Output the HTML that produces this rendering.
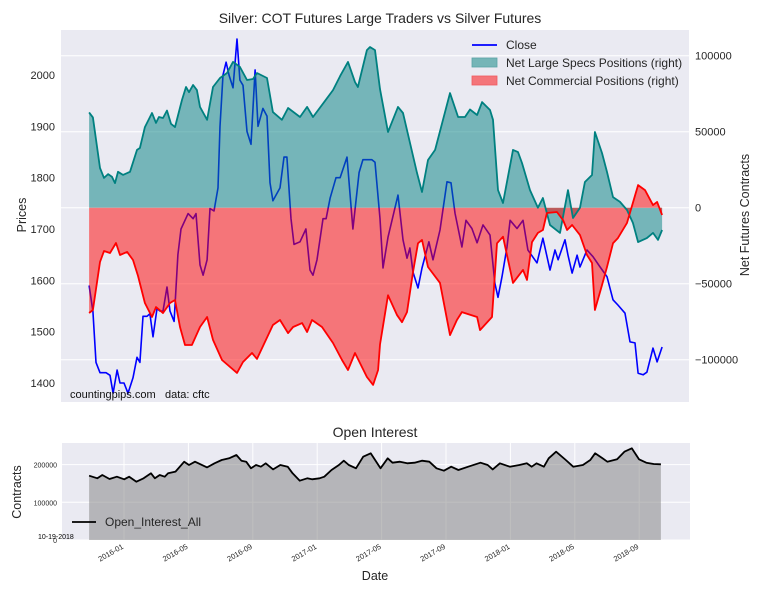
<!DOCTYPE html>
<html><head><meta charset="utf-8"><style>
html,body{margin:0;padding:0;background:#fff;}
svg{display:block;font-family:"Liberation Sans",sans-serif;}
</style></head><body>
<svg id="c" width="765" height="595" viewBox="0 0 765 595"></svg>
<script>
// ---- data (months since 2016-01) ----
const closeT=[-2.17,-1.93,-1.74,-1.49,-1.12,-0.87,-0.68,-0.43,-0.25,0,0.25,0.56,0.81,0.99,1.18,1.43,1.61,1.80,2.05,2.24,2.42,2.67,2.86,3.11,3.35,3.54,3.98,4.29,4.47,4.72,4.91,5.16,5.34,5.59,5.84,5.96,6.15,6.34,6.52,6.77,7.02,7.20,7.39,7.64,7.89,8.14,8.32,8.63,8.88,9.07,9.25,9.69,9.94,10.12,10.37,10.56,10.93,11.30,11.55,11.74,11.99,12.36,12.55,12.80,13.17,13.42,13.85,14.22,14.60,14.84,15.40,15.59,15.90,16.09,16.40,17.02,17.33,17.58,17.76,17.95,18.26,18.51,18.94,19.19,19.63,20.06,20.31,20.56,20.99,21.24,21.61,21.93,22.30,22.73,23.04,23.23,23.48,23.79,23.98,24.41,24.78,25.09,25.65,26.02,26.46,26.77,26.96,27.39,27.58,27.83,28.14,28.32,28.76,29.13,29.57,30.00,30.37,30.68,31.12,31.43,31.74,31.93,32.24,32.48,32.86,33.11,33.42];
const closeV=[1590,1540,1440,1420,1420,1415,1380,1425,1400,1400,1380,1410,1450,1440,1530,1530,1535,1490,1545,1540,1540,1587,1540,1520,1650,1700,1730,1720,1730,1630,1610,1640,1740,1735,1780,1900,2000,2025,2000,1975,2070,1990,1980,1890,1865,2010,1900,1935,1920,1790,1755,1780,1840,1840,1720,1670,1675,1700,1620,1610,1640,1720,1720,1760,1800,1800,1840,1700,1810,1835,1835,1830,1720,1624,1684,1766,1679,1643,1663,1616,1585,1624,1675,1640,1698,1792,1790,1731,1665,1717,1701,1673,1708,1688,1594,1567,1607,1665,1717,1701,1717,1659,1634,1682,1620,1659,1640,1679,1649,1614,1649,1626,1659,1646,1626,1607,1562,1552,1536,1480,1478,1419,1416,1421,1468,1441,1470];
const specT=[-2.17,-1.93,-1.49,-1.24,-0.99,-0.75,-0.56,-0.37,-0.06,0.37,0.81,0.99,1.30,1.74,1.99,2.17,2.42,2.67,2.92,3.17,3.60,3.85,4.04,4.29,4.53,4.72,5.16,5.53,5.96,6.40,6.77,7.20,7.64,8.01,8.26,8.88,9.25,9.81,10.19,10.93,11.37,11.74,12.48,12.98,13.42,13.91,14.35,14.53,15.09,15.28,15.59,15.90,16.40,17.02,17.33,18.20,18.51,18.88,19.32,20.25,20.75,21.18,21.49,21.93,22.24,22.73,22.92,23.23,23.54,24.16,24.47,24.72,25.22,25.71,26.02,26.46,27.08,27.58,27.89,28.32,28.63,29.07,29.25,29.69,30.00,30.37,30.81,31.24,31.61,31.93,32.48,32.86,33.17,33.42];
const specV=[62700,59400,26100,19600,22100,20400,16200,23600,21600,23600,38000,39300,53000,62300,55800,59700,59000,63900,55200,53000,70900,79400,76000,80700,77400,66300,57800,79400,85300,88600,95900,92600,84000,84700,88600,85300,62900,57800,65600,59700,66300,59700,70100,77400,86600,95900,82600,79400,103700,105700,103700,78000,49800,66300,62300,22900,10300,31400,38000,75400,59700,59700,64600,61000,69500,64300,57800,11600,3100,38000,36600,29400,11600,0,6400,-11400,-16600,11600,-6800,0,16900,21500,49800,36000,23500,7000,3800,-1500,-10000,-22600,-20000,-16600,-21200,-14700];
const commT=[-2.17,-1.93,-1.49,-1.24,-0.87,-0.50,-0.25,0.19,0.56,0.87,1.30,1.74,1.99,2.42,2.86,3.17,3.48,3.79,4.22,4.72,5.16,5.53,6.09,7.02,7.39,7.95,8.26,9.25,9.69,10.19,10.50,11.06,11.37,11.68,12.30,12.98,13.54,13.91,14.35,15.09,15.47,15.78,15.90,16.40,16.96,17.27,17.58,17.95,18.26,18.51,18.88,19.63,20.25,20.68,20.99,21.93,22.11,22.86,23.17,23.54,24.16,24.78,25.03,25.34,25.71,26.02,26.27,26.89,27.27,27.52,27.83,28.32,28.76,29.07,29.25,29.69,30.00,30.37,30.68,31.24,31.93,32.36,32.86,33.11,33.42];
const commV=[-69300,-67300,-35700,-28500,-29800,-23200,-31100,-29100,-34400,-44900,-62700,-71900,-65400,-69300,-62700,-60700,-78500,-90300,-90300,-78500,-71900,-87000,-100200,-108700,-101500,-95600,-99500,-77200,-73900,-82500,-78500,-75900,-81800,-73900,-78500,-89000,-100200,-106800,-95600,-111400,-116600,-106800,-90000,-57600,-70700,-75300,-68700,-42400,-23400,-21200,-39000,-49500,-83800,-73900,-68700,-71900,-80500,-71900,-23400,-19100,-49500,-40900,-47500,-22600,-16600,-14700,-3500,-2800,-8100,-14700,-11400,-18000,-31100,-36400,-67300,-50900,-39000,-23400,-20000,-10000,14900,11600,1700,3800,-4800];
const oiT=[-2.17,-1.65,-1.35,-0.90,-0.44,0.01,0.32,0.77,1.22,1.68,1.92,2.22,2.53,2.74,3.20,3.74,4.04,4.41,5.16,5.62,6.07,6.53,6.98,7.29,7.59,7.89,8.20,8.50,8.80,9.26,9.71,10.17,10.47,10.92,11.38,11.68,12.14,12.44,12.89,13.35,13.65,13.96,14.41,14.86,15.32,15.93,16.38,16.68,17.14,17.59,18.05,18.50,18.96,19.41,19.87,20.32,20.77,21.38,22.14,22.59,22.90,23.35,23.96,24.56,25.02,25.32,25.62,26.08,26.38,26.84,27.44,27.90,28.50,28.96,29.26,29.72,30.02,30.63,31.08,31.54,31.99,32.44,32.90,33.35];
const oiV=[170600,163600,172400,161800,168000,161000,168000,154700,163600,176800,163600,172400,168000,176800,181300,207800,199000,207800,192700,203400,212200,216600,225500,210400,207800,190100,199000,194500,203400,187400,199000,194500,176800,157400,163600,160900,163600,168000,185700,199000,210400,199000,190100,221000,229900,190100,216600,205100,207800,203400,205100,210400,207800,190100,183900,194500,185700,194500,205100,199000,187400,203400,194500,199000,203400,194500,203400,194500,216600,234300,212200,194500,199000,212200,229900,216600,207800,214000,234300,243200,214000,205100,201500,200700];
const priceTicks=[1400,1500,1600,1700,1800,1900,2000];
const netTicks=[-100000,-50000,0,50000,100000];
const oiTicks=[0,100000,200000];
const dateTicks=[0,4,8,12,16,20,24,28,32];
const dateLabels=["2016-01","2016-05","2016-09","2017-01","2017-05","2017-09","2018-01","2018-05","2018-09"];

const svg=document.getElementById('c');
const NS='http://www.w3.org/2000/svg';
function mk(tag,attrs,parent,text){const e=document.createElementNS(NS,tag);for(const k in attrs)e.setAttribute(k,attrs[k]);if(text!==undefined)e.textContent=text;(parent||svg).appendChild(e);return e;}
// axis functions
const xT=t=>124+t*16.1;
const yP=p=>75+(2000-p)*0.5133;
const yN=v=>207.7-v*0.00152;
const yO=v=>540-v*0.000377;
function pts(T,V,fy){const n=Math.min(T.length,V.length);let a=[];for(let i=0;i<n;i++)a.push(xT(T[i]).toFixed(1)+','+fy(V[i]).toFixed(1));return a;}
function areaPath(T,V,fy,base){const p=pts(T,V,fy);const n=Math.min(T.length,V.length);return 'M'+xT(T[0]).toFixed(1)+','+base+' L'+p.join(' L')+' L'+xT(T[n-1]).toFixed(1)+','+base+' Z';}

// ---- top panel ----
let e;
e=mk('text',{x:380,y:23,'text-anchor':'middle','font-size':14,fill:'#262626'},svg,'Silver: COT Futures Large Traders vs Silver Futures');

e=mk('rect',{x:61,y:30,width:628,height:372,fill:'#EAEAF2'});

netTicks.forEach(v=>{const g=mk('line',{x1:61,x2:689,y1:yN(v),y2:yN(v),stroke:'#fff','stroke-width':1});

const t=mk('text',{x:695,y:yN(v)+4,'font-size':11,fill:'#262626'},svg,v<0?'\u2212'+(-v):String(v));
});
priceTicks.forEach(v=>{const t=mk('text',{x:55,y:yP(v)+4,'text-anchor':'end','font-size':11,fill:'#262626'},svg,String(v));
});
e=mk('text',{x:26,y:215,'text-anchor':'middle','font-size':12.5,fill:'#262626',transform:'rotate(-90 26 215)'},svg,'Prices');

e=mk('text',{x:749,y:215,'text-anchor':'middle','font-size':12.5,fill:'#262626',transform:'rotate(-90 749 215)'},svg,'Net Futures Contracts');

// close line (under fills)
e=mk('polyline',{points:pts(closeT,closeV,yP).join(' '),fill:'none',stroke:'#0000ff','stroke-width':1.6,'stroke-linejoin':'round'});

e=mk('path',{d:areaPath(specT,specV,yN,yN(0)),fill:'#008080','fill-opacity':0.5});

e=mk('path',{d:areaPath(commT,commV,yN,yN(0)),fill:'#ff0000','fill-opacity':0.5});

e=mk('polyline',{points:pts(specT,specV,yN).join(' '),fill:'none',stroke:'#008080','stroke-width':1.8,'stroke-linejoin':'round'});

e=mk('polyline',{points:pts(commT,commV,yN).join(' '),fill:'none',stroke:'#ff0000','stroke-width':1.8,'stroke-linejoin':'round'});

// legend
const lg=mk('g',{});

e=mk('line',{x1:472,x2:497,y1:45,y2:45,stroke:'#0000ff','stroke-width':1.8},lg);

e=mk('text',{x:506,y:49,'font-size':12,fill:'#262626'},lg,'Close');

e=mk('rect',{x:472,y:58,width:25,height:9,fill:'#75b5b7',stroke:'#5aa3a5','stroke-width':0.8},lg);

e=mk('text',{x:506,y:67,'font-size':12,fill:'#262626'},lg,'Net Large Specs Positions (right)');

e=mk('rect',{x:472,y:76,width:25,height:9,fill:'#f4757a',stroke:'#f05a5f','stroke-width':0.8},lg);

e=mk('text',{x:506,y:85,'font-size':12,fill:'#262626'},lg,'Net Commercial Positions (right)');

e=mk('text',{x:70,y:398,'font-size':11,fill:'#111'},svg,'countingpips.com');

e=mk('text',{x:165,y:398,'font-size':11,fill:'#111'},svg,'data: cftc');


// ---- bottom panel ----
e=mk('text',{x:375,y:437,'text-anchor':'middle','font-size':14,fill:'#262626'},svg,'Open Interest');

e=mk('rect',{x:62,y:443,width:628,height:97,fill:'#EAEAF2'});

oiTicks.forEach(v=>{const g=mk('line',{x1:62,x2:690,y1:yO(v),y2:yO(v),stroke:'#fff','stroke-width':1});

const t=mk('text',{x:57,y:yO(v)+3,'text-anchor':'end','font-size':7,fill:'#262626'},svg,String(v));
});
dateTicks.forEach((m,i)=>{const x=xT(m);const g=mk('line',{x1:x,x2:x,y1:443,y2:540,stroke:'#fff','stroke-width':1});

const t=mk('text',{x:x,y:548,'text-anchor':'end','font-size':7.5,fill:'#262626',transform:'rotate(-30 '+x+' 548)'},svg,dateLabels[i]);
});
e=mk('path',{d:areaPath(oiT,oiV,yO,540),fill:'#808080','fill-opacity':0.5});

e=mk('polyline',{points:pts(oiT,oiV,yO).join(' '),fill:'none',stroke:'#000','stroke-width':1.8,'stroke-linejoin':'round'});

e=mk('line',{x1:72,x2:96,y1:522,y2:522,stroke:'#000','stroke-width':1.8});

e=mk('text',{x:105,y:526,'font-size':12,fill:'#262626'},svg,'Open_Interest_All');

e=mk('text',{x:38,y:539,'font-size':7,fill:'#000'},svg,'10-19-2018');

e=mk('text',{x:375,y:580,'text-anchor':'middle','font-size':12.5,fill:'#262626'},svg,'Date');

e=mk('text',{x:21,y:492,'text-anchor':'middle','font-size':12.5,fill:'#262626',transform:'rotate(-90 21 492)'},svg,'Contracts');

</script>
</body></html>
